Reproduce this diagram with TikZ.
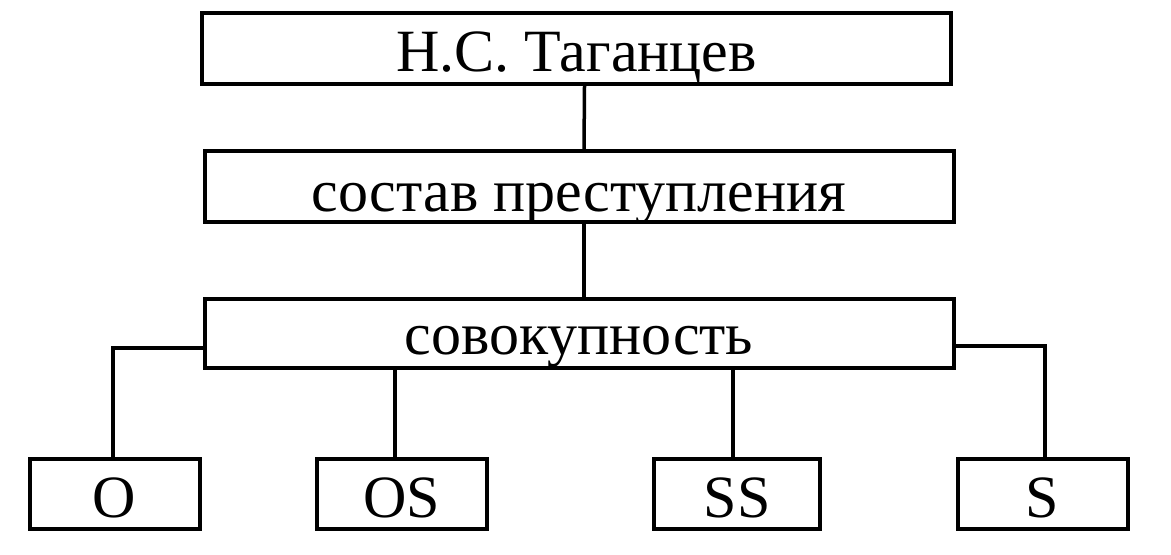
\documentclass[tikz,border=0pt]{standalone}
\usepackage{fontspec}
\setmainfont{Liberation Serif}
\usetikzlibrary{positioning}
\tikzset{
    box/.style={draw, line width=2pt, inner sep=0pt, minimum width=374.5pt, minimum height=35.5pt, text height=23.5pt, text depth=0pt, font=\fontsize{30}{36}\selectfont},
    leaf/.style={box, minimum width=85pt, minimum height=35pt},
    link/.style={line width=1.75pt}
}

\begin{document}
\begin{tikzpicture}
    \useasboundingbox (0,0) rectangle (585.5pt,-277.5pt);
    \node [box] (author) at (288.25pt,-24.25pt) {Н.С. Таганцев};
    \node [box, below=31.5pt of author, xshift=1.25pt, text height=25.5pt] (sostav) {состав преступления};
    \node [box, below=36.5pt of sostav, minimum height=34.5pt, text height=21.5pt] (sovok) {совокупность};
    \node [leaf, below=43.5pt of sovok, xshift=-232.25pt] (o) {O};
    \node [leaf, below=43.5pt of sovok, xshift=-88.5pt] (os) {OS};
    \node [leaf, below=43.5pt of sovok, xshift=79pt, minimum width=83pt] (ss) {SS};
    \node [leaf, below=43.5pt of sovok, xshift=231.75pt] (s) {S};
    \draw [link] ([xshift=4pt]author.south) -- ([xshift=2.5pt]sostav.north);
    \draw [link] ([xshift=2.5pt]sostav.south) -- ([xshift=2.5pt]sovok.north);
    \draw [link] ([yshift=-7.25pt]sovok.west) -| ([xshift=-0.75pt]o.north);
    \draw [link] ([xshift=-3.5pt]os.north) -- ([xshift=-3.5pt]os.north |- sovok.south);
    \draw [link] ([xshift=-2pt]ss.north) -- ([xshift=-2pt]ss.north |- sovok.south);
    \draw [link] ([yshift=-6.25pt]sovok.east) -| ([xshift=1.25pt]s.north);
\end{tikzpicture}
\end{document}
